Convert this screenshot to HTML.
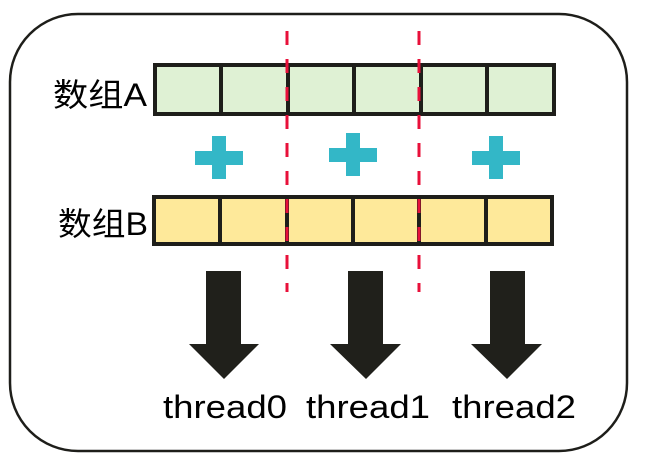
<!DOCTYPE html><html><head><style>body{margin:0;background:#fff}</style></head><body>
<svg width="647" height="457" xmlns="http://www.w3.org/2000/svg">
<rect x="10" y="14" width="617" height="437" rx="68" fill="#fff" stroke="#1e1e1a" stroke-width="2.5"/>
<g stroke="#1e1e1a" stroke-width="4">
<rect x="155" y="65" width="399" height="49" fill="#dff1d4"/>
<rect x="154" y="197" width="398" height="47" fill="#fee99a"/>
<path d="M221 65V114M288 65V114M354 65V114M421 65V114M487 65V114M220 197V244M287 197V244M353 197V244M419 197V244M486 197V244"/>
</g>
<g stroke="#e8103a" stroke-width="3" stroke-dasharray="14 14">
<path d="M287 31V292M419 31V292"/>
</g>
<g fill="#33b7c7">
<path d="M212 136h14v15h17v14h-17v14h-14v-14h-17v-14h17z"/>
<path d="M346 133h14v15h17v14h-17v14h-14v-14h-17v-14h17z"/>
<path d="M489 136h14v15h17v14h-17v14h-14v-14h-17v-14h17z"/>
</g>
<g fill="#20201b">
<path d="M206 271h35v73h18l-35 35l-35-35h17z"/>
<path d="M348 271h35v73h18l-35 35l-36-35h18z"/>
<path d="M490 271h35v73h17l-35 35l-36-35h19z"/>
</g>
<g font-family="Liberation Sans, Noto Sans CJK SC, sans-serif" font-size="32" fill="#000">
<text x="53" y="106" textLength="94" lengthAdjust="spacingAndGlyphs">数组A</text>
<text x="58" y="235" textLength="90" lengthAdjust="spacingAndGlyphs">数组B</text>
</g>
<g font-family="Liberation Sans, sans-serif" font-size="32" fill="#000">
<text x="163" y="418" textLength="124" lengthAdjust="spacingAndGlyphs">thread0</text>
<text x="306" y="418" textLength="124" lengthAdjust="spacingAndGlyphs">thread1</text>
<text x="452" y="418" textLength="124" lengthAdjust="spacingAndGlyphs">thread2</text>
</g>
</svg>
</body></html>
